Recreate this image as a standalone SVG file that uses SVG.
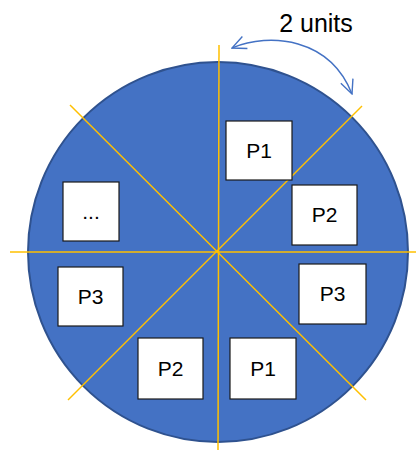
<svg xmlns="http://www.w3.org/2000/svg" width="417" height="450" viewBox="0 0 417 450">
<style>
.box{fill:#fff;stroke:#1a1a1a;stroke-width:1.2}
.lbl{font-family:"Liberation Sans",Arial,sans-serif;font-size:21px;fill:#000;text-anchor:middle}
.axis{stroke:#FFC000;stroke-width:1.5;fill:none}
</style>
<defs>
<marker id="arr" viewBox="0 0 16 16" refX="15" refY="8" markerWidth="16" markerHeight="16" markerUnits="userSpaceOnUse" orient="auto-start-reverse">
<path d="M1,1.5 L15,8 L1,14.5" fill="none" stroke="#4472C4" stroke-width="1.4"/>
</marker>
</defs>
<g id="disk">
<circle cx="218" cy="252" r="190" fill="#4472C4" stroke="#2F528F" stroke-width="2"/>
</g>
<g id="connectors">
<line class="axis" x1="219" y1="45" x2="218" y2="450"/>
<line class="axis" x1="10" y1="252" x2="416" y2="252"/>
<line class="axis" x1="70" y1="105" x2="366" y2="400"/>
<line class="axis" x1="362" y1="106" x2="68" y2="400"/>
<path d="M232,48 C270,32 330,38 352,94" fill="none" stroke="#4472C4" stroke-width="1.4" marker-start="url(#arr)" marker-end="url(#arr)"/>
</g>
<g id="label-units">
<text x="316" y="32" font-family="Liberation Sans,Arial,sans-serif" font-size="25" text-anchor="middle">2 units</text>
</g>
<g id="p1-top"><rect class="box" x="226" y="121" width="66" height="59"/><text class="lbl" x="259" y="158">P1</text></g>
<g id="p2-right"><rect class="box" x="292" y="185" width="65" height="60"/><text class="lbl" x="324.5" y="222">P2</text></g>
<g id="dots"><rect class="box" x="63" y="182" width="56" height="59"/><text class="lbl" x="91" y="219">...</text></g>
<g id="p3-left"><rect class="box" x="58" y="267" width="65" height="59"/><text class="lbl" x="90.5" y="304">P3</text></g>
<g id="p3-right"><rect class="box" x="299" y="264" width="67" height="60"/><text class="lbl" x="332.5" y="301">P3</text></g>
<g id="p2-bottom"><rect class="box" x="138" y="338" width="65" height="61"/><text class="lbl" x="170.5" y="376">P2</text></g>
<g id="p1-bottom"><rect class="box" x="230" y="338" width="66" height="61"/><text class="lbl" x="263" y="376">P1</text></g>
</svg>
